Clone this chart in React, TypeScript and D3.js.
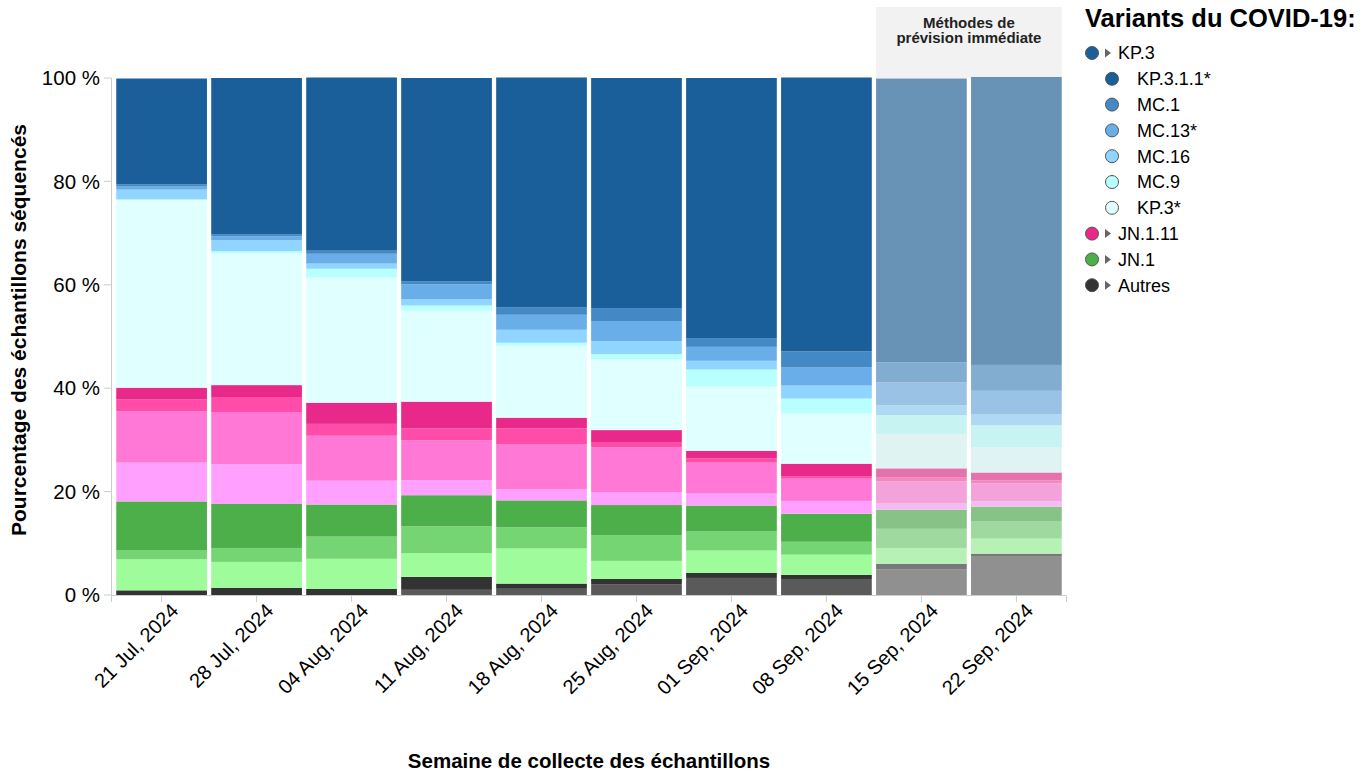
import React from 'react';
import * as d3 from 'd3';

// weeks of sample collection
const weeks = [
  '21 Jul, 2024', '28 Jul, 2024', '04 Aug, 2024', '11 Aug, 2024', '18 Aug, 2024',
  '25 Aug, 2024', '01 Sep, 2024', '08 Sep, 2024', '15 Sep, 2024', '22 Sep, 2024',
];
const nowcastWeeks = ['15 Sep, 2024', '22 Sep, 2024'];

// shares in % (stack order: bottom -> top)
const autresB = [0, 0, 0, 1.0, 1.2, 2.1, 3.3, 3.1, 5.0, 7.4];
const autresA = [0.9, 1.4, 1.2, 2.5, 1.0, 1.0, 1.0, 0.8, 1.0, 0.6];
const jn1C = [6.0, 5.0, 5.8, 4.6, 6.8, 3.5, 4.3, 3.9, 3.1, 2.9];
const jn1B = [1.7, 2.7, 4.3, 5.2, 4.1, 5.0, 3.7, 2.5, 3.7, 3.3];
const jn1A = [9.5, 8.5, 6.2, 6.0, 5.2, 5.8, 5.0, 5.4, 3.7, 2.9];
const jn111D = [7.5, 7.7, 4.6, 2.9, 2.1, 2.5, 2.3, 2.5, 1.2, 1.0];
const jn111C = [9.9, 10.1, 8.7, 7.7, 8.7, 8.7, 6.0, 4.3, 4.3, 3.5];
const jn111B = [2.3, 2.9, 2.3, 2.3, 3.1, 1.0, 0.8, 0.4, 0.8, 0.6];
const jn111A = [2.3, 2.3, 4.1, 5.2, 2.1, 2.3, 1.5, 2.5, 1.7, 1.5];
const kp3Star = [36.4, 25.5, 24.2, 17.6, 13.9, 13.7, 12.4, 9.7, 6.6, 4.8];
const mc9 = [0, 0.4, 1.7, 1.0, 0.6, 1.0, 3.3, 2.9, 3.7, 4.3];
const mc16 = [1.9, 2.1, 1.0, 1.2, 2.5, 2.5, 1.7, 2.5, 1.9, 2.1];
const mc13 = [0.6, 0.8, 1.9, 2.9, 2.9, 3.9, 2.7, 3.5, 4.4, 4.6];
const mc1 = [0.4, 0.4, 0.6, 0.6, 1.4, 2.5, 1.7, 3.1, 3.9, 5.0];
const kp311 = [20.5, 30.2, 33.5, 39.3, 44.5, 44.5, 50.3, 53.0, 54.9, 55.7];

const series = [
  { key: 'Autres b', values: autresB, color: '#5a5a5a' },
  { key: 'Autres a', values: autresA, color: '#333333' },
  { key: 'JN.1 c', values: jn1C, color: '#9efd9a' },
  { key: 'JN.1 b', values: jn1B, color: '#75d573' },
  { key: 'JN.1 a', values: jn1A, color: '#4caf4a' },
  { key: 'JN.1.11 d', values: jn111D, color: '#ffa0ff' },
  { key: 'JN.1.11 c', values: jn111C, color: '#ff78d6' },
  { key: 'JN.1.11 b', values: jn111B, color: '#ff4ca9' },
  { key: 'JN.1.11 a', values: jn111A, color: '#e8298a' },
  { key: 'KP.3*', values: kp3Star, color: '#e0ffff' },
  { key: 'MC.9', values: mc9, color: '#b8ffff' },
  { key: 'MC.16', values: mc16, color: '#8fd5ff' },
  { key: 'MC.13*', values: mc13, color: '#69aee8' },
  { key: 'MC.1', values: mc1, color: '#4389c6' },
  { key: 'KP.3.1.1*', values: kp311, color: '#1a5f9a' },
];

const legendItems = [
  { label: 'KP.3', color: '#1a5f9a', group: true },
  { label: 'KP.3.1.1*', color: '#1a5f9a', group: false },
  { label: 'MC.1', color: '#4389c6', group: false },
  { label: 'MC.13*', color: '#69aee8', group: false },
  { label: 'MC.16', color: '#8fd5ff', group: false },
  { label: 'MC.9', color: '#b8ffff', group: false },
  { label: 'KP.3*', color: '#e0ffff', group: false },
  { label: 'JN.1.11', color: '#e8298a', group: true },
  { label: 'JN.1', color: '#4caf4a', group: true },
  { label: 'Autres', color: '#333333', group: true },
];

const yTicks = [0, 20, 40, 60, 80, 100];

const W = 1368;
const H = 772;
const FONT = '"Liberation Sans", Arial, Helvetica, sans-serif';
const AXIS = '#cccccc';

export default function App() {
  const x = d3.scaleBand<string>()
    .domain(weeks)
    .range([111.5, 1066.5])
    .paddingInner(0.045)
    .paddingOuter(0.05);
  const y = d3.scaleLinear().domain([0, 100]).range([595, 78]);

  const rows = weeks.map((w, i) => {
    const r: Record<string, any> = { week: w };
    series.forEach(s => { r[s.key] = s.values[i]; });
    return r;
  });
  const stacked = d3.stack<any>().keys(series.map(s => s.key))(rows);
  const fade = (c: string) => d3.interpolateRgb(c, '#e0e0e0')(0.4);

  const nx0 = x(nowcastWeeks[0])!;
  const nx1 = x(nowcastWeeks[1])! + x.bandwidth();

  return (
    <svg width={W} height={H} style={{ position: 'absolute', left: 0, top: 0, fontFamily: FONT }}>
      <rect width={W} height={H} fill="#fff" />

      {/* nowcast header */}
      <rect x={nx0} y={7} width={nx1 - nx0} height={71} fill="#f2f2f2" />
      <text x={(nx0 + nx1) / 2} y={28} textAnchor="middle" fontSize={15} fontWeight="bold" fill="#222">Méthodes de</text>
      <text x={(nx0 + nx1) / 2} y={43} textAnchor="middle" fontSize={15} fontWeight="bold" fill="#222">prévision immédiate</text>

      {/* bars */}
      {stacked.map((layer, li) => (
        <g key={layer.key}>
          {layer.map((d, i) => {
            const w = weeks[i];
            const c = series[li].color;
            const h = y(d[0]) - y(d[1]);
            if (h <= 0) return null;
            return (
              <rect key={w} x={x(w)} y={y(d[1])} width={x.bandwidth()} height={h}
                fill={nowcastWeeks.includes(w) ? fade(c) : c} />
            );
          })}
        </g>
      ))}

      {/* y axis */}
      <line x1={111.5} x2={111.5} y1={78} y2={602} stroke={AXIS} />
      {yTicks.map(t => (
        <g key={t} transform={`translate(0,${y(t)})`}>
          <line x1={104} x2={111.5} stroke={AXIS} />
          <text x={100} dy="0.35em" textAnchor="end" fontSize={20.5} fill="#000">{`${t} %`}</text>
        </g>
      ))}
      <text transform={`translate(26,330) rotate(-90)`} textAnchor="middle"
        fontSize={21} fontWeight="bold" fill="#000">Pourcentage des échantillons séquencés</text>

      {/* x axis */}
      <line x1={111.5} x2={1066.5} y1={595.5} y2={595.5} stroke={AXIS} />
      <line x1={1066.5} x2={1066.5} y1={595.5} y2={602} stroke={AXIS} />
      {weeks.map(w => {
        const cx = x(w)! + x.bandwidth() / 2;
        return (
          <g key={w}>
            <line x1={cx} x2={cx} y1={595.5} y2={602} stroke={AXIS} />
            <text transform={`translate(${cx + 13},${607}) rotate(-45)`} textAnchor="end" dy="0.35em"
              fontSize={20} fill="#000">{w}</text>
          </g>
        );
      })}
      <text x={589} y={768} textAnchor="middle" fontSize={20.5} fontWeight="bold" fill="#000">
        Semaine de collecte des échantillons
      </text>

      {/* legend */}
      <text x={1085} y={27} fontSize={25.5} fontWeight="bold" fill="#000">Variants du COVID-19:</text>
      {legendItems.map((it, i) => {
        const cy = 53 + i * 25.8;
        return (
          <g key={it.label} transform={`translate(0,${cy})`}>
            {it.group ? (
              <>
                <circle cx={1092} cy={0} r={6.5} fill={it.color} stroke="#555" strokeWidth={1} />
                <path d="M1105,-4.5 L1111,0 L1105,4.5 Z" fill="#666" />
                <text x={1118} dy="0.35em" fontSize={18} fill="#000">{it.label}</text>
              </>
            ) : (
              <>
                <circle cx={1112} cy={0} r={6.5} fill={it.color} stroke="#555" strokeWidth={1} />
                <text x={1137} dy="0.35em" fontSize={18} fill="#000">{it.label}</text>
              </>
            )}
          </g>
        );
      })}
    </svg>
  );
}
